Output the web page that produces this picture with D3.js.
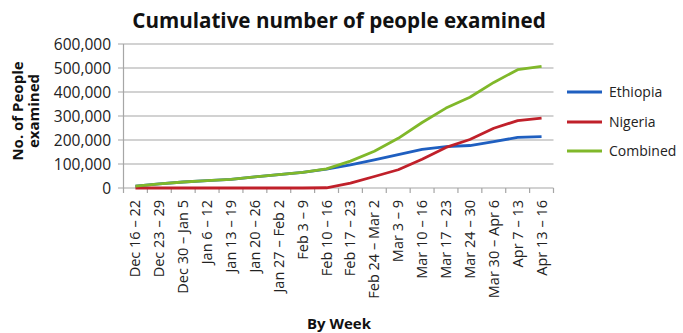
<!DOCTYPE html>
<html><head><meta charset="utf-8">
<script src="https://cdn.jsdelivr.net/npm/d3@7"></script>
<style>body{margin:0;background:#fff}svg{display:block}</style>
</head><body>
<svg id="c" width="683" height="333"></svg>
<script>
const categories = ["Dec 16 – 22","Dec 23 – 29","Dec 30 – Jan 5","Jan 6 – 12","Jan 13 – 19","Jan 20 – 26","Jan 27 – Feb 2","Feb 3 – 9","Feb 10 – 16","Feb 17 – 23","Feb 24 – Mar 2","Mar 3 – 9","Mar 10 – 16","Mar 17 – 23","Mar 24 – 30","Mar 30 – Apr 6","Apr 7 – 13","Apr 13 – 16"];
const ethiopia = [8000,17000,25000,31000,36000,46000,56000,65000,79000,96000,117000,139000,161000,172000,177000,193000,211000,214000];
const nigeria  = [0,0,0,0,0,0,0,0,1000,20000,48000,76000,120000,169000,202000,249000,281000,291000];
const combined = [8000,17000,25000,31000,36000,46000,56000,65000,80000,112000,153000,207000,273000,333000,378000,440000,493000,507000];
const yTicks = [0,100000,200000,300000,400000,500000,600000];
const seriesNames = ["Ethiopia","Nigeria","Combined"];
const seriesColors = ["#1f5fc0","#c0202a","#80b82a"];

const svg = d3.select("#c");
const font = "Open Sans, sans-serif";
const x = d3.scaleBand().domain(categories).range([123.5,553.5]);
const y = d3.scaleLinear().domain([0,600000]).range([188,44]);

// gridlines
svg.append("g").selectAll("line").data(yTicks).join("line")
  .attr("x1",118).attr("x2",553.5).attr("y1",d=>y(d)).attr("y2",d=>y(d))
  .attr("stroke","#a6a6a6").attr("stroke-width",1.2);
// y axis line
svg.append("line").attr("x1",123.5).attr("x2",123.5).attr("y1",44).attr("y2",188)
  .attr("stroke","#a6a6a6").attr("stroke-width",1.2);
// y tick labels
svg.append("g").selectAll("text").data(yTicks).join("text")
  .attr("x",111).attr("y",d=>y(d)).attr("dy","0.36em").attr("text-anchor","end")
  .attr("font-family",font).attr("font-size",15.5).attr("fill","#222")
  .text(d=>d3.format(",")(d));
// x axis ticks
const bounds = categories.map(c=>x(c)).concat([x.range()[1]]);
svg.append("g").selectAll("line").data(bounds).join("line")
  .attr("x1",d=>d).attr("x2",d=>d).attr("y1",188).attr("y2",193)
  .attr("stroke","#a6a6a6").attr("stroke-width",1.2);
// x labels
svg.append("g").selectAll("text").data(categories).join("text")
  .attr("transform",d=>`translate(${x(d)+x.bandwidth()/2+5},200) rotate(-90)`)
  .attr("text-anchor","end").attr("font-family",font).attr("font-size",14.5).attr("fill","#222")
  .text(d=>d);

// lines
const data = [ethiopia,nigeria,combined];
const line = d3.line().x((d,i)=>x(categories[i])+x.bandwidth()/2).y(d=>y(d));
[0,1,2].forEach(k=>{
  svg.append("path").attr("d",line(data[k])).attr("fill","none")
    .attr("stroke",seriesColors[k]).attr("stroke-width",2.8).attr("stroke-linejoin","round");
});

// legend
const ly = [92,122,151];
seriesNames.forEach((n,k)=>{
  svg.append("line").attr("x1",567).attr("x2",602).attr("y1",ly[k]).attr("y2",ly[k])
    .attr("stroke",seriesColors[k]).attr("stroke-width",2.8);
  svg.append("text").attr("x",609).attr("y",ly[k]).attr("dy","0.36em")
    .attr("font-family",font).attr("font-size",14).attr("fill","#222").text(n);
});

// title
svg.append("text").attr("x",339).attr("y",28).attr("text-anchor","middle")
  .attr("font-family",font).attr("font-weight","bold").attr("font-size",20.6).attr("fill","#111")
  .text("Cumulative number of people examined");
// y axis title
const yt = svg.append("text").attr("transform","translate(27,111) rotate(-90)")
  .attr("text-anchor","middle").attr("font-family",font).attr("font-weight","bold")
  .attr("font-size",15).attr("fill","#111");
yt.append("tspan").attr("x",0).attr("dy","-0.25em").text("No. of People");
yt.append("tspan").attr("x",0).attr("dy","1.05em").text("examined");
// x axis title
svg.append("text").attr("x",339).attr("y",329).attr("text-anchor","middle")
  .attr("font-family",font).attr("font-weight","bold").attr("font-size",15).attr("fill","#111")
  .text("By Week");
</script>
</body></html>
